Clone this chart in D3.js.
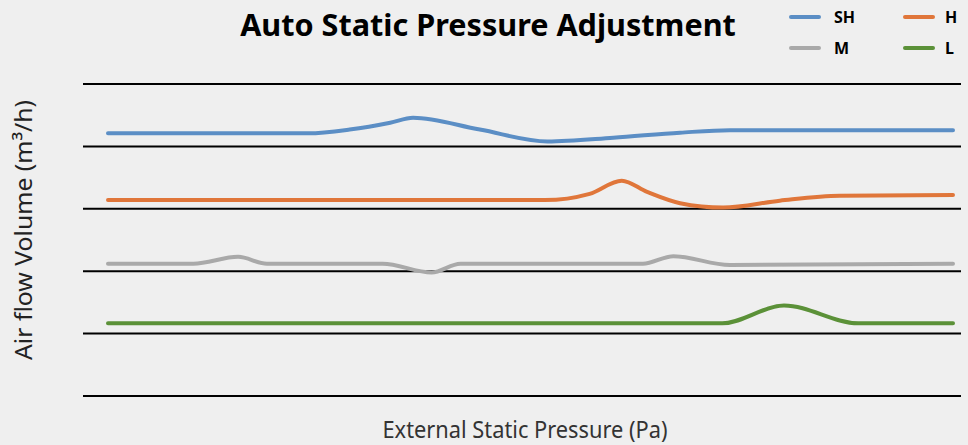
<!DOCTYPE html>
<html>
<head>
<meta charset="utf-8">
<script src="https://cdn.jsdelivr.net/npm/d3@7"></script>
<style>
  html, body { margin: 0; padding: 0; background: #efefef; }
  svg { display: block; }
</style>
</head>
<body>
<div class="chart_frame"></div>
<script>
// series data (x = external static pressure, arbitrary 0..100; y = air volume, grid units)
var titleText = 'Auto Static Pressure Adjustment',
    xLabel = 'External Static Pressure (Pa)',
    yLabel = 'Air flow Volume (m\u00b3/h)';

var gridTicks = [0, 1, 2, 3, 4, 5];

var sh_x = [0, 23.7, 28.6, 33.4, 36.1, 44.0, 52.0, 59.8, 67.7, 73.6, 100];
var sh_y = [4.21, 4.21, 4.27, 4.38, 4.46, 4.27, 4.08, 4.14, 4.22, 4.26, 4.26];

var h_x = [0, 51.7, 57.0, 60.8, 63.8, 67.7, 72.8, 79.5, 86.6, 100];
var h_y = [3.14, 3.14, 3.24, 3.45, 3.27, 3.09, 3.02, 3.13, 3.21, 3.22];

var m_x = [0, 10.1, 15.4, 18.8, 32.5, 38.3, 41.7, 63.3, 66.9, 73.6, 100];
var m_y = [2.12, 2.12, 2.23, 2.12, 2.12, 1.98, 2.12, 2.12, 2.24, 2.10, 2.12];

var l_x = [0, 72.7, 80.0, 88.8, 100];
var l_y = [1.165, 1.165, 1.45, 1.165, 1.165];

var seriesNames = ['SH', 'H', 'M', 'L'];
var seriesColors = ['#5b8ec5', '#e0763a', '#a9a9a9', '#5b9138'];

function zipSeries(xs, ys) {
    return xs.map(function(x, i) { return {x: x, y: ys[i]}; });
}

function plot() {
    var width = 968, height = 445;

    var svg = d3.select('.chart_frame').append('svg')
        .attr('width', width)
        .attr('height', height);

    svg.append('rect')
        .attr('width', width).attr('height', height)
        .attr('fill', '#efefef');

    var x = d3.scaleLinear().domain([0, 100]).range([108, 953]);
    var y = d3.scaleLinear().domain([0, 5]).range([396, 84]);

    // grid lines
    var grid = svg.append('g').attr('class', 'grid');
    grid.selectAll('line')
        .data(gridTicks)
        .enter().append('line')
        .attr('x1', 83).attr('x2', 961)
        .attr('y1', function(d) { return y(d); })
        .attr('y2', function(d) { return y(d); })
        .attr('stroke', '#000')
        .attr('stroke-width', 2);

    // curves
    var line = d3.line()
        .x(function(d) { return x(d.x); })
        .y(function(d) { return y(d.y); })
        .curve(d3.curveMonotoneX);

    var allSeries = [
        zipSeries(sh_x, sh_y),
        zipSeries(h_x, h_y),
        zipSeries(m_x, m_y),
        zipSeries(l_x, l_y)
    ];

    svg.append('g').attr('class', 'curves')
        .selectAll('path')
        .data(allSeries)
        .enter().append('path')
        .attr('d', line)
        .attr('fill', 'none')
        .attr('stroke', function(d, i) { return seriesColors[i]; })
        .attr('stroke-width', 4)
        .attr('stroke-linecap', 'round');

    // title
    svg.append('text')
        .attr('x', 488).attr('y', 36)
        .attr('text-anchor', 'middle')
        .attr('font-family', 'Noto Sans, sans-serif')
        .attr('font-weight', 'bold')
        .attr('font-size', 30.6)
        .attr('fill', '#000')
        .text(titleText);

    // legend
    var legendPos = [[791, 17], [905, 17], [791, 48], [905, 48]];
    var legend = svg.append('g').attr('class', 'legend');
    seriesNames.forEach(function(name, i) {
        var p = legendPos[i];
        legend.append('line')
            .attr('x1', p[0]).attr('x2', p[0] + 28)
            .attr('y1', p[1]).attr('y2', p[1])
            .attr('stroke', seriesColors[i])
            .attr('stroke-width', 4)
            .attr('stroke-linecap', 'round');
        legend.append('text')
            .attr('x', p[0] + (i % 2 ? 40 : 43)).attr('y', p[1] + 6)
            .attr('font-family', 'Noto Sans, sans-serif')
            .attr('font-weight', 'bold')
            .attr('font-size', 16)
            .attr('fill', '#000')
            .text(name);
    });

    // axis labels
    svg.append('text')
        .attr('transform', 'translate(32,230) rotate(-90)')
        .attr('text-anchor', 'middle')
        .attr('font-family', 'Noto Sans, sans-serif')
        .attr('font-size', 24)
        .attr('fill', '#222')
        .attr('textLength', 260)
        .attr('lengthAdjust', 'spacingAndGlyphs')
        .text(yLabel);

    svg.append('text')
        .attr('x', 525).attr('y', 438)
        .attr('text-anchor', 'middle')
        .attr('font-family', 'Noto Sans, sans-serif')
        .attr('font-size', 24)
        .attr('fill', '#333')
        .attr('textLength', 285)
        .attr('lengthAdjust', 'spacingAndGlyphs')
        .text(xLabel);
}

plot();
</script>
</body>
</html>
